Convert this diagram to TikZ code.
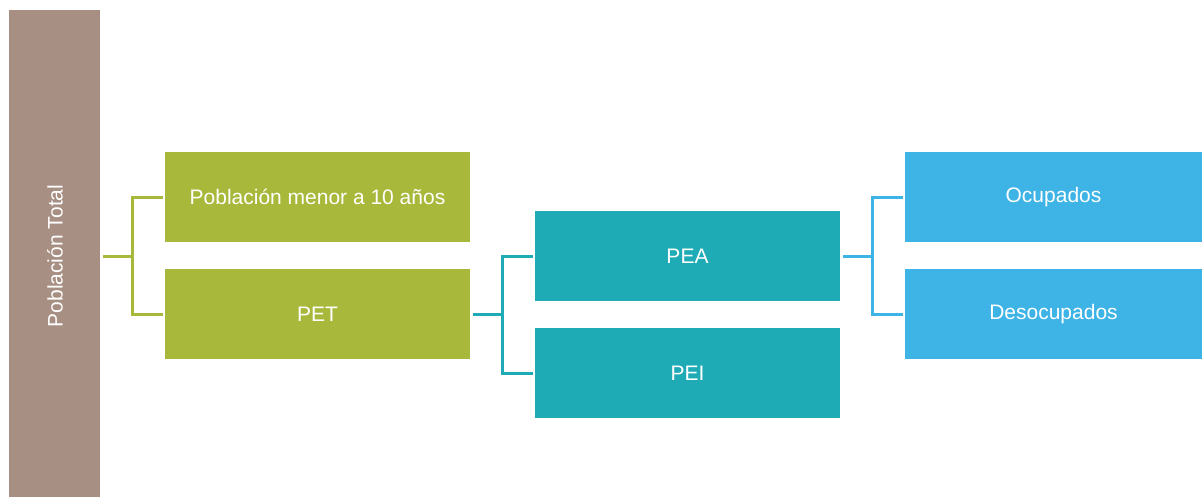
\documentclass[tikz,border=0pt]{standalone}
\usepackage{fontspec}
\setmainfont{Liberation Sans}
\definecolor{pardo}{RGB}{168,143,131}
\definecolor{oliva}{RGB}{168,184,58}
\definecolor{turquesa}{RGB}{30,171,181}
\definecolor{celeste}{RGB}{61,179,230}
\begin{document}
\begin{tikzpicture}
  [x=1pt,y=-1pt,
   every node/.style={rectangle,text=white,inner sep=0pt,
     font=\fontsize{21}{25}\selectfont},
   caja/.style={minimum width=305pt,minimum height=90pt},
   enlace/.style={line width=3pt,shorten <=3pt,shorten >=2pt}]
  \useasboundingbox (0,0) rectangle (1202,496);
  \node[fill=pardo,minimum width=91pt,minimum height=492pt] (total) at (54.5,256) {};
  \node[rotate=90] (totaltxt) at (55,256) {Población Total};
  \node[caja,fill=oliva] (menor) at (317.5,197) {Población menor a 10 años};
  \node[caja,fill=oliva] (pet) at (317.5,314) {PET};
  \node[caja,fill=turquesa] (pea) at (687.5,256) {PEA};
  \node[caja,fill=turquesa] (pei) at (687.5,373) {PEI};
  \node[caja,fill=celeste,minimum width=297pt] (ocup) at (1053.5,197) {Ocupados};
  \node[caja,fill=celeste,minimum width=297pt] (desoc) at (1053.5,314) {Desocupados};
  \foreach \from/\to/\col in {total/menor/oliva,total/pet/oliva,pet/pea/turquesa,
      pet/pei/turquesa,pea/ocup/celeste,pea/desoc/celeste}
    \draw[enlace,draw=\col] (\from.east) -- ++(32,0) |- (\to.west);
\end{tikzpicture}
\end{document}
